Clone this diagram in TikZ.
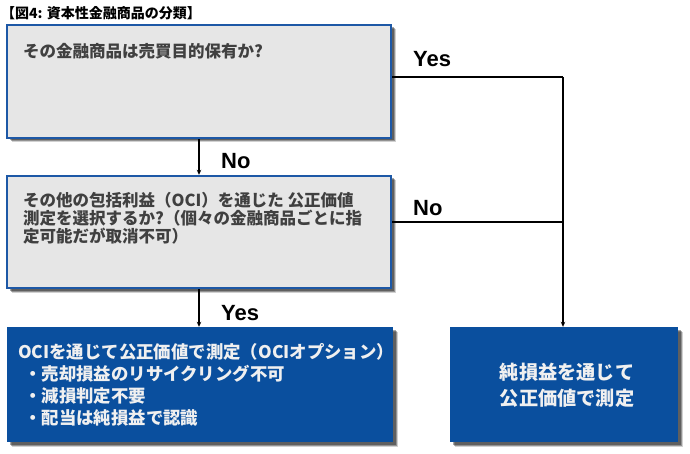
\documentclass[tikz,border=0pt]{standalone}
\usepackage{fontspec}
\newfontfamily\jp{Noto Sans CJK JP}
\newfontfamily\lab{Liberation Sans}
\usetikzlibrary{arrows.meta,shadows}
\definecolor{boxblue}{HTML}{0A4F9E}
\definecolor{edgeblue}{HTML}{1D58A6}
\definecolor{boxgray}{HTML}{E6E6E6}
\definecolor{txtgray}{HTML}{404040}
\definecolor{txtwhite}{HTML}{F0F0F0}
\tikzset{
  shade/.style={
    general shadow={shadow xshift=4.5pt,shadow yshift=-4.5pt,fill=black,opacity=0.18},
    general shadow={shadow xshift=3.5pt,shadow yshift=-3.5pt,fill=black,opacity=0.3},
    general shadow={shadow xshift=2.5pt,shadow yshift=-2.5pt,fill=black,opacity=0.35}},
  qbox/.style={draw=edgeblue,line width=2.4pt,fill=boxgray,inner sep=0pt,shade},
  rbox/.style={fill=boxblue,inner sep=0pt,shade},
  qtext/.style={inner sep=0pt,align=left,text=txtgray,font=\jp\bfseries\fontsize{16.5}{17.8}\selectfont},
  rtext/.style={inner sep=0pt,align=left,text=txtwhite,font=\jp\bfseries\fontsize{17.4}{22}\selectfont},
  ctext/.style={inner sep=0pt,align=center,text=txtwhite,font=\jp\bfseries\fontsize{19.2}{26}\selectfont},
  lbl/.style={inner sep=0pt,anchor=west,font=\lab\bfseries\fontsize{22}{24}\selectfont},
  conn/.style={line width=1.6pt,-{Stealth[length=5pt,width=4.5pt]}},
  plain/.style={line width=1.6pt}
}
\begin{document}
\begin{tikzpicture}[x=1pt,y=-1pt]
\useasboundingbox (0,0) rectangle (690,454);
\node[inner sep=0pt,anchor=west,font=\jp\bfseries\fontsize{14}{15}\selectfont] (title) at (1,13) {【図4: 資本性金融商品の分類】};
\node[qbox,minimum width=384pt,minimum height=113pt] (q1) at (199,81.5) {};
\node[qbox,minimum width=384pt,minimum height=112pt] (q2) at (199,232) {};
\node[rbox,minimum width=386pt,minimum height=115pt] (r1) at (200,384.5) {};
\node[rbox,minimum width=228pt,minimum height=115pt] (r2) at (564,384.5) {};
\node[qtext,anchor=west] (q1t) at (23,51) {その金融商品は売買目的保有か?};
\node[qtext,anchor=west] (q2t) at (23,218) {その他の包括利益（OCI）を通じた 公正価値\\測定を選択するか?（個々の金融商品ごとに指\\定可能だが取消不可）};
\node[rtext,anchor=west] (r1t) at (18,384.5) {OCIを通じて公正価値で測定（OCIオプション）\\\hspace{6pt}・売却損益のリサイクリング不可\\\hspace{6pt}・減損判定不要\\\hspace{6pt}・配当は純損益で認識};
\node[ctext] (r2t) at (567,385) {純損益を通じて\\公正価値で測定};
\coordinate (yc) at (563,77);
\coordinate (nc) at (563,222);
\draw[conn] (q1.south) -- (q2.north);
\draw[conn] (q2.south) -- (q2.south |- r1.north);
\draw[plain] (q1.east |- yc) -- (yc);
\draw[conn] (yc) -- (yc |- r2.north);
\draw[plain] (q2.east |- nc) -- (nc);
\node[lbl] (l1) at (221,161) {No};
\node[lbl] (l2) at (221,313) {Yes};
\node[lbl] (l3) at (413,59) {Yes};
\node[lbl] (l4) at (413,208) {No};
\end{tikzpicture}
\end{document}
